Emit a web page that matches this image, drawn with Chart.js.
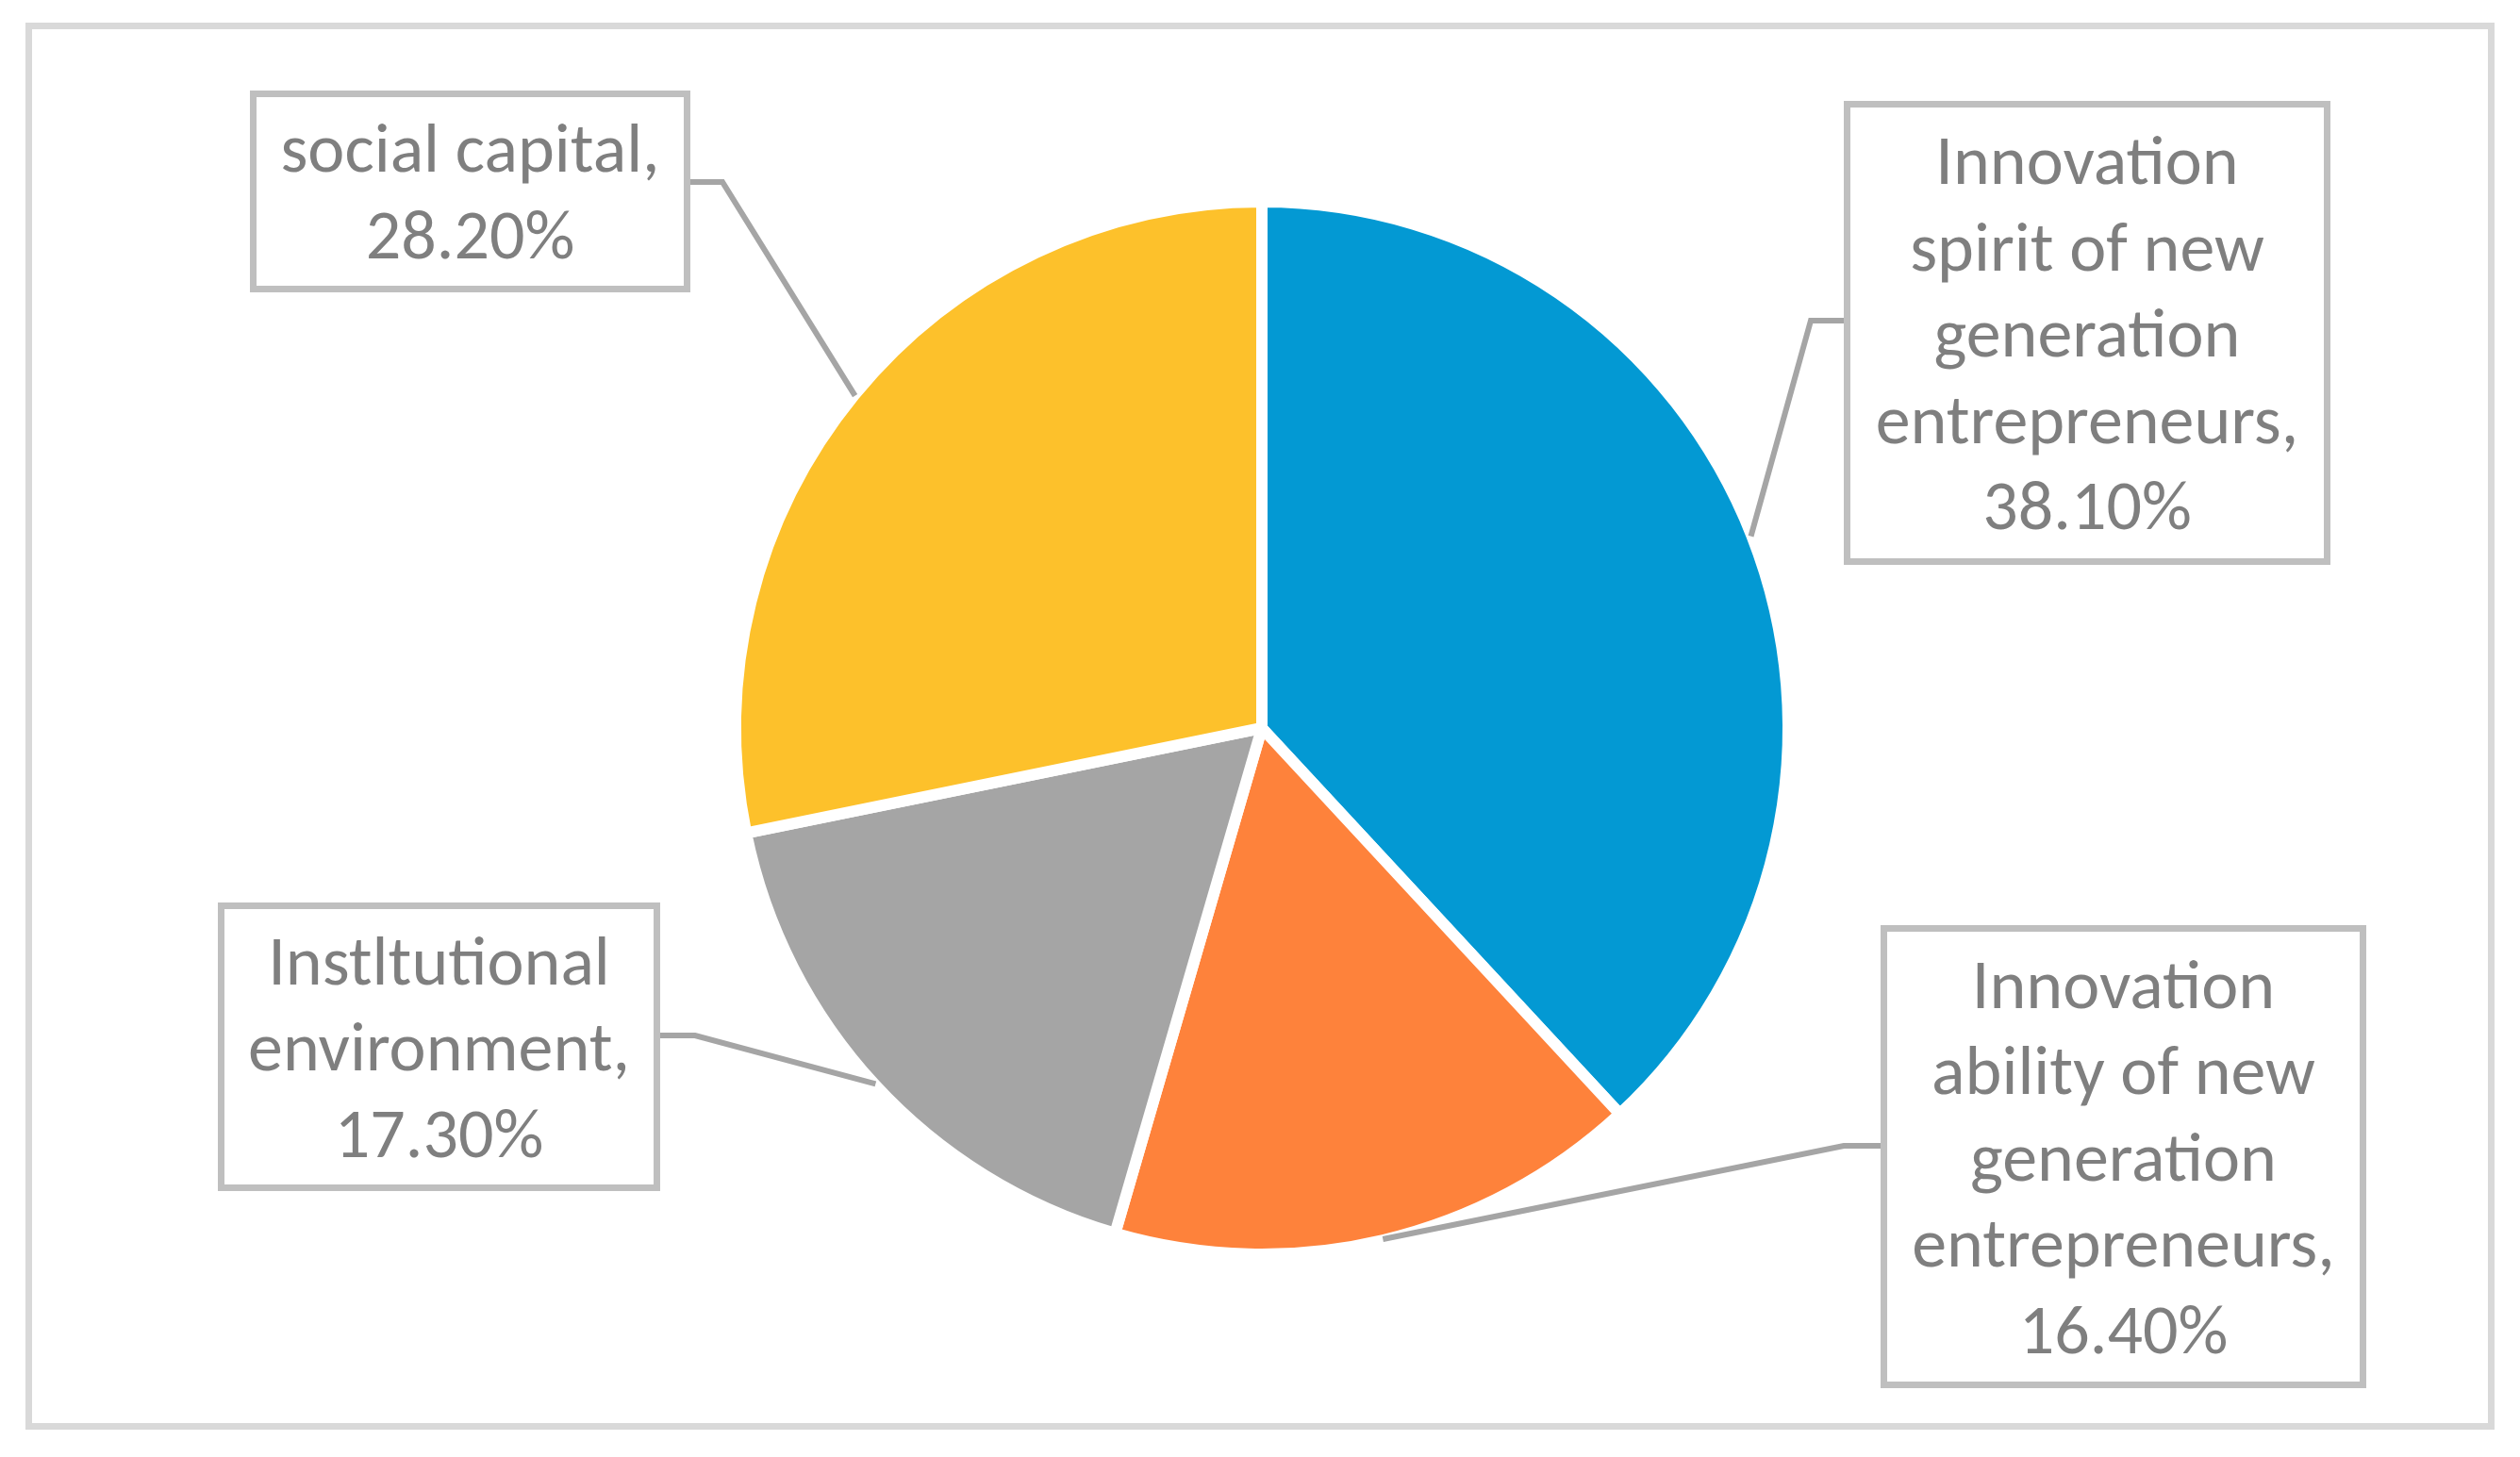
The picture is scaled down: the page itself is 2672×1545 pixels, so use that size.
<!DOCTYPE html>
<html><head><meta charset="utf-8">
<script src="https://cdn.jsdelivr.net/npm/chart.js@4.4.0/dist/chart.umd.min.js"></script>
<style>html,body{margin:0;padding:0;background:#fff;overflow:hidden}#wrap{width:2672px;height:1545px;position:relative}</style>
</head><body><div id="wrap"><canvas id="c"></canvas></div>
<script>
// ---- data ----
const categories = [
  ["Innovation", "spirit of new", "generation", "entrepreneurs"],
  ["Innovation", "ability of new", "generation", "entrepreneurs"],
  ["Instltutional", "environment"],
  ["social capital"]
];
const values = [38.1, 16.4, 17.3, 28.2];
const colors = ["#0399D3", "#FE823B", "#A5A5A5", "#FDC12B"];

// ---- label layout (stroke-centre rectangles) and leader elbow points ----
const labelBoxes = [
  {x: 1958.5, y: 110.5, w: 509, h: 485},
  {x: 1997.5, y: 984.5, w: 508, h: 484},
  {x: 234.5,  y: 960.5, w: 462, h: 299},
  {x: 268.5,  y: 99.5,  w: 460, h: 207}
];
const elbows = [
  {x: 1920, y: 340}, {x: 1955, y: 1215}, {x: 737, y: 1098}, {x: 766, y: 193}
];

const FONT = "74px Carlito, Calibri, Lato, 'Liberation Sans Narrow', sans-serif";
const LINE_H = 91.5;

const framePlugin = {
  id: 'frame',
  beforeDraw(chart) {
    const ctx = chart.ctx;
    ctx.save();
    ctx.fillStyle = '#fff';
    ctx.fillRect(0, 0, chart.width, chart.height);
    ctx.strokeStyle = '#D9D9D9';
    ctx.lineWidth = 7;
    ctx.strokeRect(30.5, 27.5, 2611, 1485);
    ctx.restore();
  }
};

const calloutPlugin = {
  id: 'callouts',
  afterDatasetsDraw(chart) {
    const ctx = chart.ctx;
    const meta = chart.getDatasetMeta(0);
    ctx.save();
    meta.data.forEach((arc, i) => {
      const p = arc.getProps(['x', 'y', 'startAngle', 'endAngle', 'outerRadius'], true);
      const mid = (p.startAngle + p.endAngle) / 2;
      const r = p.outerRadius - 1;
      const px = p.x + Math.cos(mid) * r, py = p.y + Math.sin(mid) * r;
      const b = labelBoxes[i], e = elbows[i];
      const edgeX = e.x < b.x ? b.x - 3.5 : b.x + b.w + 3.5;
      ctx.strokeStyle = '#A5A5A5';
      ctx.lineWidth = 6;
      ctx.lineJoin = 'miter';
      ctx.beginPath();
      ctx.moveTo(px, py);
      ctx.lineTo(e.x, e.y);
      ctx.lineTo(edgeX, e.y);
      ctx.stroke();
      ctx.fillStyle = '#fff';
      ctx.fillRect(b.x, b.y, b.w, b.h);
      ctx.strokeStyle = '#BFBFBF';
      ctx.lineWidth = 7;
      ctx.strokeRect(b.x, b.y, b.w, b.h);
      const lines = categories[i].slice();
      lines[lines.length - 1] += ',';
      lines.push(values[i].toFixed(2) + '%');
      ctx.fillStyle = '#7F7F7F';
      ctx.font = FONT;
      ctx.textAlign = 'center';
      ctx.textBaseline = 'alphabetic';
      const cx = b.x + b.w / 2, cy = b.y + b.h / 2;
      const n = lines.length;
      lines.forEach((t, k) => {
        ctx.fillText(t, cx, cy + (k - (n - 1) / 2) * LINE_H + 25);
      });
    });
    ctx.restore();
  }
};

new Chart(document.getElementById('c'), {
  type: 'pie',
  data: {
    labels: categories.map(c => c.join(' ')),
    datasets: [{
      data: values,
      backgroundColor: colors,
      borderColor: '#FFFFFF',
      borderWidth: 12
    }]
  },
  options: {
    responsive: true,
    maintainAspectRatio: false,
    devicePixelRatio: 1,
    animation: false,
    radius: 558,
    layout: {padding: {left: 404, right: 400, top: 100, bottom: 101}},
    plugins: {legend: {display: false}, tooltip: {enabled: false}}
  },
  plugins: [framePlugin, calloutPlugin]
});
</script>
</body></html>
